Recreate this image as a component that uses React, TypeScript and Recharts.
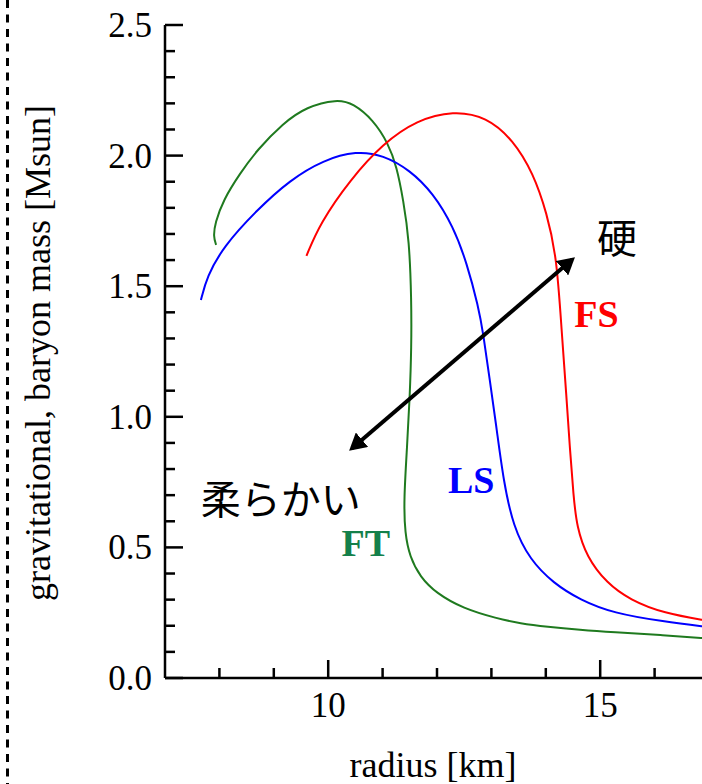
import React from 'react';
import { LineChart, Line, XAxis, YAxis, ReferenceDot } from 'recharts';

// FT (green) mass-radius curve, ordered from low mass (large radius) to the end of the branch
const FT_R = [17.0, 16.1, 15.24, 14.63, 14.02, 13.53, 13.1, 12.48, 11.99, 11.69, 11.5, 11.41, 11.39, 11.45, 11.5, 11.53, 11.53, 11.49, 11.38, 11.26, 11.1, 10.83, 10.46, 10.16, 9.6, 9.17, 8.69, 8.38, 8.07, 7.92, 7.89, 7.94];
const FT_M = [0.151, 0.165, 0.175, 0.184, 0.196, 0.209, 0.228, 0.266, 0.324, 0.387, 0.464, 0.554, 0.681, 0.886, 1.077, 1.268, 1.447, 1.677, 1.83, 1.958, 2.048, 2.136, 2.2, 2.216, 2.187, 2.124, 2.021, 1.932, 1.83, 1.741, 1.69, 1.658];

// LS (blue)
const LS_R = [17.0, 16.16, 15.24, 14.63, 14.14, 13.71, 13.4, 13.22, 13.1, 12.97, 12.85, 12.76, 12.55, 12.3, 11.93, 11.5, 11.01, 10.52, 9.91, 9.3, 8.69, 8.07, 7.77, 7.66];
const LS_M = [0.195, 0.216, 0.248, 0.299, 0.363, 0.452, 0.579, 0.758, 0.949, 1.141, 1.32, 1.422, 1.588, 1.728, 1.856, 1.945, 2.002, 2.018, 1.983, 1.907, 1.792, 1.651, 1.536, 1.447];

// FS (red)
const FS_R = [17.0, 16.16, 15.55, 15.12, 14.75, 14.57, 14.51, 14.44, 14.38, 14.29, 14.2, 14.02, 13.77, 13.4, 12.91, 12.3, 11.63, 11.01, 10.4, 9.85, 9.6];
const FS_M = [0.218, 0.248, 0.299, 0.363, 0.464, 0.579, 0.694, 0.886, 1.077, 1.332, 1.613, 1.779, 1.932, 2.06, 2.149, 2.172, 2.136, 2.047, 1.907, 1.741, 1.616];

// double-headed arrow (soft <-> stiff)
const ARROW_R = [10.44, 14.48];
const ARROW_M = [0.88, 1.601];

const X_TICKS = [8, 9, 10, 11, 12, 13, 14, 15, 16];
const X_MAJOR = [10, 15];
const Y_TICKS = [0, 0.1, 0.2, 0.3, 0.4, 0.5, 0.6, 0.7, 0.8, 0.9, 1.0, 1.1, 1.2, 1.3, 1.4, 1.5, 1.6, 1.7, 1.8, 1.9, 2.0, 2.1, 2.2, 2.3, 2.4, 2.5];
const Y_MAJOR = [0, 0.5, 1.0, 1.5, 2.0, 2.5];

const toData = (rs: number[], ms: number[]) => rs.map((r, i) => ({ r, m: ms[i] }));

const SERIF = "'Liberation Serif', 'Times New Roman', serif";
const CJK = "'Noto Sans CJK JP', sans-serif";

const isMajor = (v: number, list: number[]) => list.some((t) => Math.abs(t - v) < 1e-6);

const LeftTick = (p: any) => {
  const v = p.payload.value;
  const major = isMajor(v, Y_MAJOR);
  return (
    <g>
      <line x1={p.x} x2={p.x + (major ? 18 : 10)} y1={p.y} y2={p.y} stroke="#000" strokeWidth={2.5} />
      {major && (
        <text x={p.x - 13} y={p.y + 12} textAnchor="end" fontFamily={SERIF} fontSize={35} fill="#000">
          {v.toFixed(1)}
        </text>
      )}
    </g>
  );
};

const RightTick = (p: any) => {
  const v = p.payload.value;
  const major = isMajor(v, Y_MAJOR);
  return <line x1={p.x} x2={p.x - (major ? 18 : 10)} y1={p.y} y2={p.y} stroke="#000" strokeWidth={2.5} />;
};

const BottomTick = (p: any) => {
  const v = p.payload.value;
  const major = isMajor(v, X_MAJOR);
  return (
    <g>
      <line x1={p.x} x2={p.x} y1={p.y} y2={p.y - (major ? 18 : 10)} stroke="#000" strokeWidth={2.5} />
      {major && (
        <text x={p.x} y={p.y + 39} textAnchor="middle" fontFamily={SERIF} fontSize={35} fill="#000">
          {String(v)}
        </text>
      )}
    </g>
  );
};

const TopTick = (p: any) => {
  const v = p.payload.value;
  const major = isMajor(v, X_MAJOR);
  return <line x1={p.x} x2={p.x} y1={p.y} y2={p.y + (major ? 18 : 10)} stroke="#000" strokeWidth={2.5} />;
};

const textShape = (label: string, color: string, font: string, size: number, weight: string) => (p: any) => (
  <text
    x={p.cx}
    y={p.cy}
    textAnchor="middle"
    dominantBaseline="central"
    fontFamily={font}
    fontSize={size}
    fontWeight={weight}
    fill={color}
  >
    {label}
  </text>
);

export default function App() {
  const axisLine = { stroke: '#000', strokeWidth: 2.5 };
  return (
    <div style={{ position: 'absolute', left: 0, top: 0, width: 702, height: 784, overflow: 'hidden', background: '#fff' }}>
      <svg style={{ position: 'absolute', left: 0, top: 0 }} width={20} height={784}>
        <line x1={7.5} x2={7.5} y1={0} y2={784} stroke="#000" strokeWidth={3} strokeDasharray="8 6.5" />
      </svg>
      <div style={{ position: 'absolute', left: 0, top: 0 }}>
        <LineChart width={760} height={784} margin={{ top: 25, right: 51, bottom: 0, left: 0 }}>
          <defs>
            <marker
              id="arrowHead"
              viewBox="0 0 17 19"
              markerWidth={17}
              markerHeight={19}
              refX={13}
              refY={9.5}
              orient="auto-start-reverse"
              markerUnits="userSpaceOnUse"
            >
              <path d="M0,0 L17,9.5 L0,19 Z" fill="#000" />
            </marker>
          </defs>
          <XAxis
            type="number"
            dataKey="r"
            domain={[7, 17]}
            ticks={X_TICKS}
            interval={0}
            height={106}
            tickSize={0}
            tickMargin={0}
            axisLine={axisLine}
            tickLine={false}
            tick={<BottomTick />}
            allowDataOverflow
          />
          <XAxis
            xAxisId="top"
            orientation="top"
            type="number"
            dataKey="r"
            domain={[7, 17]}
            ticks={X_TICKS}
            interval={0}
            height={0}
            tickSize={0}
            tickMargin={0}
            axisLine={axisLine}
            tickLine={false}
            tick={<TopTick />}
            allowDataOverflow
          />
          <YAxis
            type="number"
            domain={[0, 2.5]}
            ticks={Y_TICKS}
            interval={0}
            width={165}
            tickSize={0}
            tickMargin={0}
            axisLine={axisLine}
            tickLine={false}
            tick={<LeftTick />}
            allowDataOverflow
          />
          <YAxis
            yAxisId="right"
            orientation="right"
            type="number"
            domain={[0, 2.5]}
            ticks={Y_TICKS}
            interval={0}
            width={0}
            tickSize={0}
            tickMargin={0}
            axisLine={axisLine}
            tickLine={false}
            tick={<RightTick />}
            allowDataOverflow
          />
          <Line data={toData(FT_R, FT_M)} dataKey="m" type="basis" stroke="#1f7a1f" strokeWidth={2} dot={false} activeDot={false} isAnimationActive={false} />
          <Line data={toData(LS_R, LS_M)} dataKey="m" type="basis" stroke="#0000ff" strokeWidth={2} dot={false} activeDot={false} isAnimationActive={false} />
          <Line data={toData(FS_R, FS_M)} dataKey="m" type="basis" stroke="#ff0000" strokeWidth={2} dot={false} activeDot={false} isAnimationActive={false} />
          <Line
            data={toData(ARROW_R, ARROW_M)}
            dataKey="m"
            type="linear"
            stroke="#000"
            strokeWidth={4}
            dot={false}
            activeDot={false}
            markerStart="url(#arrowHead)"
            markerEnd="url(#arrowHead)"
            isAnimationActive={false}
          />
          <ReferenceDot x={15.31} y={1.692} r={0} ifOverflow="visible" shape={textShape('硬', '#000', CJK, 40, 'normal')} />
          <ReferenceDot x={9.13} y={0.693} r={0} ifOverflow="visible" shape={textShape('柔らかい', '#000', CJK, 40, 'normal')} />
          <ReferenceDot x={14.93} y={1.395} r={0} ifOverflow="visible" shape={textShape('FS', '#ff0000', SERIF, 38, 'bold')} />
          <ReferenceDot x={12.63} y={0.758} r={0} ifOverflow="visible" shape={textShape('LS', '#0000ff', SERIF, 38, 'bold')} />
          <ReferenceDot x={10.69} y={0.516} r={0} ifOverflow="visible" shape={textShape('FT', '#14804a', SERIF, 38, 'bold')} />
        </LineChart>
      </div>
      <svg style={{ position: 'absolute', left: 0, top: 0, pointerEvents: 'none' }} width={702} height={784}>
        <text
          x={50}
          y={353}
          transform="rotate(-90 50 353)"
          textAnchor="middle"
          fontFamily={SERIF}
          fontSize={36}
          fill="#000"
        >
          gravitational, baryon mass [Msun]
        </text>
        <text x={433} y={777} textAnchor="middle" fontFamily={SERIF} fontSize={36} fill="#000">
          radius [km]
        </text>
      </svg>
    </div>
  );
}
